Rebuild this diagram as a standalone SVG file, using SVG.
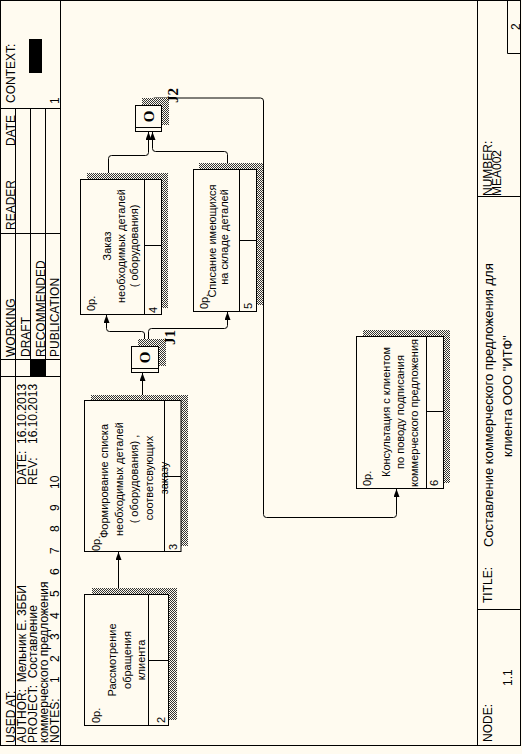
<svg xmlns="http://www.w3.org/2000/svg" width="522" height="754" viewBox="0 0 522 754">
<style>
.ln{fill:none;stroke:#000;stroke-width:1}
.bx{fill:#fffbf0;stroke:#000;stroke-width:1}
.sh{fill:url(#hatch)}
.t{font-family:"Liberation Sans",Arial,sans-serif;font-size:12px;fill:#000}
.n{font-family:"Liberation Sans",Arial,sans-serif;font-size:11px;fill:#000}
.m{text-anchor:middle}
.j{font-family:"Liberation Serif","Times New Roman",serif;font-weight:bold;font-size:15px;fill:#000}
.c{fill:none;stroke:#000;stroke-width:1;marker-end:url(#ah)}
</style>
<defs>
<pattern id="hatch" width="2" height="2" patternUnits="userSpaceOnUse">
<rect width="2" height="2" fill="#fffbf0"/>
<rect width="1" height="1" fill="#333"/>
<rect x="1" y="1" width="1" height="1" fill="#333"/>
</pattern>
<marker id="ah" markerUnits="userSpaceOnUse" viewBox="0 0 8 6" refX="8" refY="3" markerWidth="8" markerHeight="6" orient="auto">
<path d="M0,0 L8,3 L0,6 z" fill="#000"/>
</marker>
</defs>
<rect x="0" y="0" width="522" height="754" fill="#fffbf0"/>

<g id="frame">
<rect class="ln" x="0.5" y="0.5" width="520" height="745"/>
<line class="ln" x1="60.5" y1="0.5" x2="60.5" y2="745.5"/>
<line class="ln" x1="0.5" y1="108.5" x2="60.5" y2="108.5"/>
<line class="ln" x1="0.5" y1="233.5" x2="60.5" y2="233.5"/>
<line class="ln" x1="0.5" y1="359.5" x2="60.5" y2="359.5"/>
<line class="ln" x1="0.5" y1="376.5" x2="60.5" y2="376.5"/>
<line class="ln" x1="15.5" y1="108.5" x2="15.5" y2="745.5"/>
<line class="ln" x1="30.5" y1="108.5" x2="30.5" y2="376.5"/>
<line class="ln" x1="45.5" y1="108.5" x2="45.5" y2="376.5"/>
<rect x="29" y="39" width="13" height="34" fill="#000"/>
<rect x="30.5" y="359.5" width="15" height="17" fill="#000"/>
<line class="ln" x1="477.5" y1="0.5" x2="477.5" y2="745.5"/>
<line class="ln" x1="477.5" y1="196.5" x2="520.5" y2="196.5"/>
<line class="ln" x1="477.5" y1="609.5" x2="520.5" y2="609.5"/>
<line class="ln" x1="507.5" y1="0.5" x2="507.5" y2="53.5"/>
<line class="ln" x1="507.5" y1="53.5" x2="520.5" y2="53.5"/>
<text class="t" transform="translate(14.5 103) rotate(-90)">CONTEXT:</text>
<text class="t" transform="translate(59 104) rotate(-90)">1</text>
<text class="t" transform="translate(14.5 230) rotate(-90)">READER</text>
<text class="t" transform="translate(14.5 146) rotate(-90)">DATE</text>
<text class="t" transform="translate(14.5 357) rotate(-90)">WORKING</text>
<text class="t" transform="translate(29.5 357) rotate(-90)">DRAFT</text>
<text class="t" transform="translate(44.5 357) rotate(-90)">RECOMMENDED</text>
<text class="t" transform="translate(59 357) rotate(-90)">PUBLICATION</text>
<text class="t" transform="translate(14.5 743) rotate(-90)">USED AT:</text>
<text class="t" transform="translate(26 743) rotate(-90)" xml:space="preserve">AUTHOR:  Мельник Е. 3ББИ</text>
<text class="t" transform="translate(26 485) rotate(-90)">DATE:</text>
<text class="t" transform="translate(26 444) rotate(-90)">16.10.2013</text>
<text class="t" transform="translate(37 743) rotate(-90)" xml:space="preserve">PROJECT:  Составление</text>
<text class="t" transform="translate(37 485) rotate(-90)">REV:</text>
<text class="t" transform="translate(37 444) rotate(-90)">16.10.2013</text>
<text class="t" transform="translate(47.5 743) rotate(-90)">коммерческого предложения</text>
<text class="t" transform="translate(58.5 743) rotate(-90)">NOTES:</text>
<text class="t" transform="translate(58.5 683) rotate(-90)">1</text>
<text class="t" transform="translate(58.5 662) rotate(-90)">2</text>
<text class="t" transform="translate(58.5 640) rotate(-90)">3</text>
<text class="t" transform="translate(58.5 619) rotate(-90)">4</text>
<text class="t" transform="translate(58.5 597) rotate(-90)">5</text>
<text class="t" transform="translate(58.5 575) rotate(-90)">6</text>
<text class="t" transform="translate(58.5 554) rotate(-90)">7</text>
<text class="t" transform="translate(58.5 532) rotate(-90)">8</text>
<text class="t" transform="translate(58.5 511) rotate(-90)">9</text>
<text class="t" transform="translate(58.5 489) rotate(-90)">10</text>
<text class="t" transform="translate(492 196) rotate(-90)">NUMBER:</text>
<text class="t" transform="translate(501 196) rotate(-90)">MEA002</text>
<text class="t" transform="translate(520 30) rotate(-90)">2</text>
<text class="t" transform="translate(492 742) rotate(-90)">NODE:</text>
<text class="t" transform="translate(512 686) rotate(-90)">1.1</text>
<text class="t" transform="translate(492 603) rotate(-90)">TITLE:</text>
<text class="t" style="font-size:13px" transform="translate(493 547) rotate(-90)">Составление коммерческого предложения для</text>
<text class="t" style="font-size:13px" transform="translate(512 457) rotate(-90)">клиента ООО "ИТФ"</text>
</g>

<g id="connectors">
<path class="c" d="M118.5,594.5 V552"/>
<path class="c" d="M142.5,400.5 V373"/>
<path class="c" d="M144.5,346.5 V334 Q144.5,331.5 141.5,331.5 H109.5 Q106.5,331.5 106.5,328.5 V315"/>
<path class="c" d="M148.5,346.5 V331.5 Q148.5,328.5 151.5,328.5 H224.5 Q227.5,328.5 227.5,325.5 V312"/>
<path class="c" d="M108.5,179.5 V158.5 Q108.5,155.5 111.5,155.5 H145.5 Q148.5,155.5 148.5,152.5 V132"/>
<path class="c" d="M227.5,169.5 V154.5 Q227.5,151.5 224.5,151.5 H155.5 Q152.5,151.5 152.5,148.5 V132"/>
<path class="c" d="M151.5,105.5 V101 Q151.5,98 154.5,98 H260.5 Q263.5,98 263.5,101 V514.5 Q263.5,517.5 266.5,517.5 H393.5 Q396.5,517.5 396.5,514.5 V489"/>
</g>

<g id="node2">
<rect class="sh" x="92" y="588" width="85" height="132"/>
<rect class="bx" x="84.5" y="594.5" width="84" height="131"/>
<line class="ln" x1="148.5" y1="594.5" x2="148.5" y2="725.5"/>
<line class="ln" x1="148.5" y1="660.5" x2="168.5" y2="660.5"/>
<text class="n" transform="translate(100 723) rotate(-90)">0р.</text>
<text class="n" transform="translate(164.5 723) rotate(-90)">2</text>
<text class="n m" transform="translate(116 660) rotate(-90)">Рассмотрение</text>
<text class="n m" transform="translate(131 660) rotate(-90)">обращения</text>
<text class="n m" transform="translate(145 660) rotate(-90)">клиента</text>
</g>

<g id="node3">
<rect class="sh" x="91" y="395" width="97" height="151"/>
<rect class="bx" x="84.5" y="400.5" width="96.5" height="151"/>
<line class="ln" x1="164.5" y1="400.5" x2="164.5" y2="551.5"/>
<line class="ln" x1="164.5" y1="476.5" x2="181" y2="476.5"/>
<text class="n" transform="translate(100 551) rotate(-90)">0р.</text>
<text class="n" transform="translate(177 550) rotate(-90)">3</text>
<text class="n m" transform="translate(107.5 481) rotate(-90)">Формирование списка</text>
<text class="n m" transform="translate(122.5 479) rotate(-90)">необходимых деталей</text>
<text class="n m" transform="translate(137.5 479) rotate(-90)">( оборудования) ,</text>
<text class="n m" transform="translate(152.5 478) rotate(-90)">соответсвующих</text>
<text class="n m" transform="translate(167.5 478) rotate(-90)">заказу</text>
</g>

<g id="node4">
<rect class="sh" x="87" y="173" width="81" height="135"/>
<rect class="bx" x="80.5" y="179.5" width="81" height="135"/>
<line class="ln" x1="144.5" y1="179.5" x2="144.5" y2="314.5"/>
<line class="ln" x1="144.5" y1="245.5" x2="161.5" y2="245.5"/>
<text class="n" transform="translate(95 311) rotate(-90)">0р.</text>
<text class="n" transform="translate(157 313) rotate(-90)">4</text>
<text class="n m" transform="translate(111 246) rotate(-90)">Заказ</text>
<text class="n m" transform="translate(124.5 246) rotate(-90)">необходимых деталей</text>
<text class="n m" transform="translate(138 246) rotate(-90)">( оборудования)</text>
</g>

<g id="node5">
<rect class="sh" x="199" y="163" width="64" height="142"/>
<rect class="bx" x="193.5" y="169.5" width="63" height="142"/>
<line class="ln" x1="239.5" y1="169.5" x2="239.5" y2="311.5"/>
<line class="ln" x1="239.5" y1="240.5" x2="256.5" y2="240.5"/>
<text class="n" transform="translate(208 309) rotate(-90)">0р.</text>
<text class="n" transform="translate(252 309) rotate(-90)">5</text>
<text class="n m" transform="translate(216 241) rotate(-90)">Списание имеющихся</text>
<text class="n m" transform="translate(227.5 237) rotate(-90)">на складе деталей</text>
</g>

<g id="node6">
<rect class="sh" x="363" y="330" width="87" height="153"/>
<rect class="bx" x="356.5" y="336.5" width="87" height="152"/>
<line class="ln" x1="426.5" y1="336.5" x2="426.5" y2="488.5"/>
<line class="ln" x1="426.5" y1="411.5" x2="443.5" y2="411.5"/>
<text class="n" transform="translate(371 486) rotate(-90)">0р.</text>
<text class="n" transform="translate(438 486) rotate(-90)">6</text>
<text class="n m" transform="translate(390 412) rotate(-90)">Консультация с клиентом</text>
<text class="n m" transform="translate(404 412) rotate(-90)">по поводу подписания</text>
<text class="n m" transform="translate(418 413) rotate(-90)">коммерческого предложения</text>
</g>

<g id="J1">
<rect class="sh" x="138" y="339" width="28" height="27"/>
<rect class="bx" x="131.5" y="346.5" width="27" height="26"/>
<line class="ln" x1="131.5" y1="368.5" x2="158.5" y2="368.5"/>
<text class="j m" transform="translate(150 357.5) rotate(-90)">O</text>
<text class="j" transform="translate(175 345) rotate(-90)">J1</text>
</g>

<g id="J2">
<rect class="sh" x="142" y="98" width="27" height="27"/>
<rect class="bx" x="135.5" y="105.5" width="26" height="26"/>
<line class="ln" x1="135.5" y1="127.5" x2="161.5" y2="127.5"/>
<text class="j m" transform="translate(153.5 116.5) rotate(-90)">O</text>
<text class="j" transform="translate(178 103) rotate(-90)">J2</text>
</g>
</svg>
